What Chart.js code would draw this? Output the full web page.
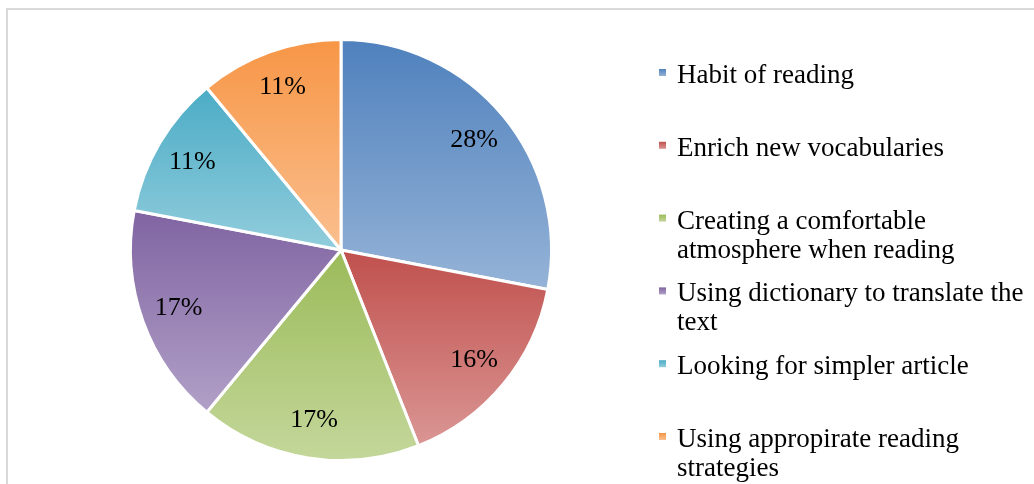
<!DOCTYPE html>
<html>
<head>
<meta charset="utf-8">
<script src="https://cdn.jsdelivr.net/npm/chart.js@4.4.0/dist/chart.umd.min.js"></script>
<style>
  html, body { margin: 0; padding: 0; background: #fff; }
  #wrap { position: relative; width: 1034px; height: 484px; overflow: hidden; }
  #frame { position: absolute; left: 6px; top: 8px; width: 1100px; height: 600px; border: 2px solid #d9d9d9; box-sizing: border-box; }
  canvas { position: absolute; left: 0; top: 0; }
</style>
</head>
<body>
<div id="wrap">
  <div id="frame"></div>
  <canvas id="myChart" width="1034" height="484"></canvas>
</div>
<script>
// data
var categories = [
  ["Habit of reading"],
  ["Enrich new vocabularies"],
  ["Creating a comfortable", "atmosphere when reading"],
  ["Using dictionary to translate the", "text"],
  ["Looking for simpler article"],
  ["Using appropirate reading", "strategies"]
];
var shares = [28, 16, 17, 17, 11, 11];

// colours: top of slice -> bottom of slice
var topColors = ["#4f81bd", "#c0504d", "#9bbb59", "#8064a2", "#4bacc6", "#f79646"];
var bottomColors = ["#95b3d7", "#da9694", "#c4d79b", "#b1a0c7", "#92cddc", "#fabf8f"];

var FONT = "'Liberation Serif', 'Times New Roman', serif";

// vertical extent of a sector, used for the per-slice gradient
function sectorYRange(arc) {
  var ys = [arc.y];
  var a0 = arc.startAngle, a1 = arc.endAngle, r = arc.outerRadius;
  ys.push(arc.y + r * Math.sin(a0), arc.y + r * Math.sin(a1));
  [-Math.PI / 2, Math.PI / 2, 3 * Math.PI / 2].forEach(function (a) {
    if (a >= a0 && a <= a1) ys.push(arc.y + r * Math.sin(a));
  });
  return [Math.min.apply(null, ys), Math.max.apply(null, ys)];
}

var slicePlugin = {
  id: "sliceStyle",
  beforeDatasetsDraw: function (chart) {
    var ctx = chart.ctx;
    var meta = chart.getDatasetMeta(0);
    meta.data.forEach(function (arc, i) {
      var yr = sectorYRange(arc);
      var g = ctx.createLinearGradient(0, yr[0], 0, yr[1]);
      g.addColorStop(0, topColors[i]);
      g.addColorStop(1, bottomColors[i]);
      arc.options.backgroundColor = g;
    });
  },
  afterDatasetsDraw: function (chart) {
    var ctx = chart.ctx;
    var meta = chart.getDatasetMeta(0);
    var total = shares.reduce(function (a, b) { return a + b; }, 0);
    ctx.save();
    ctx.font = "26px " + FONT;
    ctx.fillStyle = "#000";
    ctx.textAlign = "center";
    ctx.textBaseline = "middle";
    meta.data.forEach(function (arc, i) {
      var mid = (arc.startAngle + arc.endAngle) / 2;
      var r = arc.outerRadius * 0.82;
      var pct = Math.round(shares[i] / total * 100) + "%";
      ctx.fillText(pct, arc.x + r * Math.cos(mid), arc.y + r * Math.sin(mid));
    });

    // legend
    ctx.font = "27px " + FONT;
    ctx.textAlign = "left";
    ctx.textBaseline = "alphabetic";
    categories.forEach(function (lines, i) {
      var base = 83 + i * 72.8;
      var g = ctx.createLinearGradient(0, base - 14, 0, base - 7);
      g.addColorStop(0, topColors[i]);
      g.addColorStop(1, bottomColors[i]);
      ctx.fillStyle = g;
      ctx.fillRect(659, base - 14, 7, 7);
      ctx.fillStyle = "#000";
      lines.forEach(function (line, j) {
        ctx.fillText(line, 677, base + j * 29);
      });
    });
    ctx.restore();
  }
};

var ctx = document.getElementById("myChart").getContext("2d");
var chart = new Chart(ctx, {
  type: "pie",
  data: {
    labels: categories.map(function (c) { return c.join(" "); }),
    datasets: [{
      data: shares,
      backgroundColor: topColors,
      borderColor: "#ffffff",
      borderWidth: 3
    }]
  },
  options: {
    responsive: false,
    animation: false,
    layout: { padding: { left: 129, right: 481, top: 38, bottom: 22 } },
    plugins: {
      legend: { display: false },
      tooltip: { enabled: false }
    }
  },
  plugins: [slicePlugin]
});
</script>
</body>
</html>
